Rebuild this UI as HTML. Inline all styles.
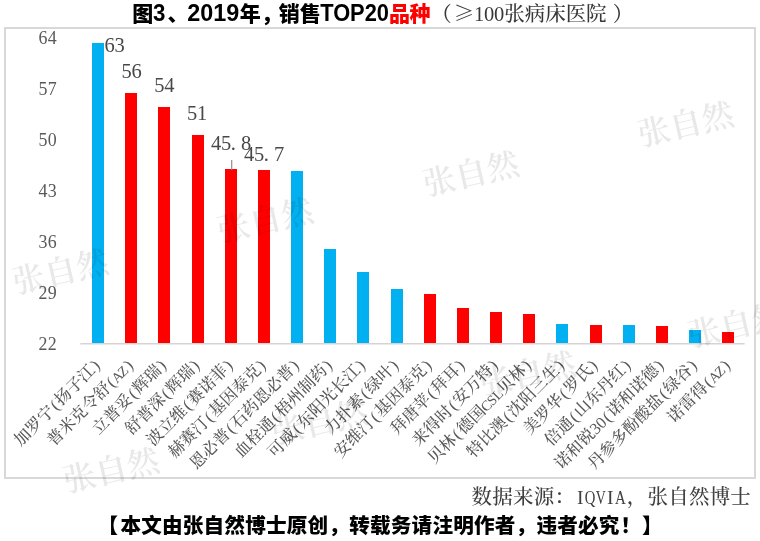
<!DOCTYPE html>
<html lang="zh-CN">
<head>
<meta charset="utf-8">
<title>图3、2019年，销售TOP20品种</title>
<style>
html,body{margin:0;padding:0;background:#fff;}
body{width:760px;height:541px;overflow:hidden;}
svg{display:block;text-spacing-trim:space-all;}
.song{font-family:"Liberation Serif","Noto Serif CJK SC",serif;}
.songc{font-family:"Noto Serif CJK SC","Liberation Serif",serif;}
.hei{font-family:"Liberation Sans","Noto Sans CJK SC",sans-serif;font-weight:700;}
</style>
</head>
<body>
<svg width="760" height="541" viewBox="0 0 760 541">
<rect x="0" y="0" width="760" height="541" fill="#ffffff"/>
<rect x="5" y="28" width="750" height="450" fill="none" stroke="#d8d8d8" stroke-width="2"/>
<text class="hei" style="font-weight:900" font-size="21" fill="#000" x="132.2" y="20.8">图<tspan x="153" font-size="24.2" style="font-weight:700" textLength="12.4" lengthAdjust="spacingAndGlyphs">3</tspan><tspan x="167.5">、</tspan><tspan x="187.2" font-size="24.2" style="font-weight:700" textLength="52" lengthAdjust="spacingAndGlyphs">2019</tspan><tspan x="239.7">年</tspan><tspan x="261">，</tspan><tspan x="278.7">销</tspan><tspan x="299.8">售</tspan><tspan x="320.2" font-size="24.2" style="font-weight:700" textLength="68.8" lengthAdjust="spacingAndGlyphs">TOP20</tspan><tspan fill="#ff0000"><tspan x="389.1">品</tspan><tspan x="409.5">种</tspan></tspan></text>
<text class="songc" font-size="20.5" font-weight="500" fill="#383838" y="20.9"><tspan x="431.3">（</tspan><tspan x="453.7">≥</tspan><tspan class="song" x="473.93 484.02 494.12">100</tspan><tspan x="504.30 524.75 545.20 565.65 586.10">张病床医院</tspan><tspan x="612.8">）</tspan></text>
<text class="song" x="42.90 52.30" y="44.1" font-size="17.9" fill="#595959" text-anchor="middle">64</text>
<text class="song" x="42.90 52.30" y="95.1" font-size="17.9" fill="#595959" text-anchor="middle">57</text>
<text class="song" x="42.90 52.30" y="146.2" font-size="17.9" fill="#595959" text-anchor="middle">50</text>
<text class="song" x="42.90 52.30" y="197.2" font-size="17.9" fill="#595959" text-anchor="middle">43</text>
<text class="song" x="42.90 52.30" y="248.2" font-size="17.9" fill="#595959" text-anchor="middle">36</text>
<text class="song" x="42.90 52.30" y="299.2" font-size="17.9" fill="#595959" text-anchor="middle">29</text>
<text class="song" x="42.90 52.30" y="350.3" font-size="17.9" fill="#595959" text-anchor="middle">22</text>
<line x1="80.3" y1="343.8" x2="744.6" y2="343.8" stroke="#d4d4d4" stroke-width="1.5"/>
<rect x="92" y="43" width="12" height="300" fill="#00b0f0"/>
<rect x="125" y="93" width="12" height="250" fill="#ff0000"/>
<rect x="158" y="107" width="12" height="236" fill="#ff0000"/>
<rect x="192" y="135" width="12" height="208" fill="#ff0000"/>
<rect x="225" y="169" width="12" height="174" fill="#ff0000"/>
<rect x="258" y="170" width="12" height="173" fill="#ff0000"/>
<rect x="291" y="171" width="12" height="172" fill="#00b0f0"/>
<rect x="324" y="249" width="12" height="94" fill="#00b0f0"/>
<rect x="357" y="272" width="12" height="71" fill="#00b0f0"/>
<rect x="391" y="289" width="12" height="54" fill="#00b0f0"/>
<rect x="424" y="294" width="12" height="49" fill="#ff0000"/>
<rect x="457" y="308" width="12" height="35" fill="#ff0000"/>
<rect x="490" y="312" width="12" height="31" fill="#ff0000"/>
<rect x="523" y="314" width="12" height="29" fill="#ff0000"/>
<rect x="556" y="324" width="12" height="19" fill="#00b0f0"/>
<rect x="590" y="325" width="12" height="18" fill="#ff0000"/>
<rect x="623" y="325" width="12" height="18" fill="#00b0f0"/>
<rect x="656" y="326" width="12" height="17" fill="#ff0000"/>
<rect x="689" y="330" width="12" height="13" fill="#00b0f0"/>
<rect x="722" y="332" width="12" height="11" fill="#ff0000"/>
<text class="song" x="109.50 119.50" y="51.5" font-size="20.5" fill="#484848" text-anchor="middle">63</text>
<text class="song" x="126.50 136.50" y="78.0" font-size="20.5" fill="#484848" text-anchor="middle">56</text>
<text class="song" x="159.40 169.40" y="91.7" font-size="20.5" fill="#484848" text-anchor="middle">54</text>
<text class="song" x="192.00 202.00" y="120.0" font-size="20.5" fill="#484848" text-anchor="middle">51</text>
<text class="song" x="216.00 226.00 233.40 246.00" y="149.8" font-size="20.5" fill="#484848" text-anchor="middle">45.8</text>
<text class="song" x="249.00 259.00 266.40 279.00" y="161.3" font-size="20.5" fill="#484848" text-anchor="middle">45.7</text>
<line x1="231.7" y1="160" x2="231.7" y2="170" stroke="#909090" stroke-width="1.2"/>
<text class="song" transform="translate(101.9 365.7) rotate(-45)" font-size="16.4" font-weight="500" fill="#595959" text-anchor="middle" x="-106.60 -90.20 -73.80 -61.50 -49.20 -32.80 -16.40 -4.10" y="0">加罗宁(扬子江)</text>
<text class="song" transform="translate(135.0 365.7) rotate(-45)" font-size="16.4" font-weight="500" fill="#595959" text-anchor="middle" x="-106.60 -90.20 -73.80 -57.40 -41.00 -28.70 -20.50 -12.30 -4.10" y="0">普米克令舒(<tspan font-size="14.2">AZ</tspan>)</text>
<text class="song" transform="translate(168.2 365.7) rotate(-45)" font-size="16.4" font-weight="500" fill="#595959" text-anchor="middle" x="-90.20 -73.80 -57.40 -45.10 -32.80 -16.40 -4.10" y="0">立普妥(辉瑞)</text>
<text class="song" transform="translate(201.4 365.7) rotate(-45)" font-size="16.4" font-weight="500" fill="#595959" text-anchor="middle" x="-90.20 -73.80 -57.40 -45.10 -32.80 -16.40 -4.10" y="0">舒普深(辉瑞)</text>
<text class="song" transform="translate(234.5 365.7) rotate(-45)" font-size="16.4" font-weight="500" fill="#595959" text-anchor="middle" x="-106.60 -90.20 -73.80 -61.50 -49.20 -32.80 -16.40 -4.10" y="0">波立维(赛诺菲)</text>
<text class="song" transform="translate(267.7 365.7) rotate(-45)" font-size="16.4" font-weight="500" fill="#595959" text-anchor="middle" x="-123.00 -106.60 -90.20 -77.90 -65.60 -49.20 -32.80 -16.40 -4.10" y="0">赫赛汀(基因泰克)</text>
<text class="song" transform="translate(300.9 365.7) rotate(-45)" font-size="16.4" font-weight="500" fill="#595959" text-anchor="middle" x="-139.40 -123.00 -106.60 -94.30 -82.00 -65.60 -49.20 -32.80 -16.40 -4.10" y="0">恩必普(石药恩必普)</text>
<text class="song" transform="translate(334.0 365.7) rotate(-45)" font-size="16.4" font-weight="500" fill="#595959" text-anchor="middle" x="-123.00 -106.60 -90.20 -77.90 -65.60 -49.20 -32.80 -16.40 -4.10" y="0">血栓通(梧州制药)</text>
<text class="song" transform="translate(367.2 365.7) rotate(-45)" font-size="16.4" font-weight="500" fill="#595959" text-anchor="middle" x="-123.00 -106.60 -94.30 -82.00 -65.60 -49.20 -32.80 -16.40 -4.10" y="0">可威(东阳光长江)</text>
<text class="song" transform="translate(400.4 365.7) rotate(-45)" font-size="16.4" font-weight="500" fill="#595959" text-anchor="middle" x="-90.20 -73.80 -57.40 -45.10 -32.80 -16.40 -4.10" y="0">力扑素(绿叶)</text>
<text class="song" transform="translate(433.5 365.7) rotate(-45)" font-size="16.4" font-weight="500" fill="#595959" text-anchor="middle" x="-123.00 -106.60 -90.20 -77.90 -65.60 -49.20 -32.80 -16.40 -4.10" y="0">安维汀(基因泰克)</text>
<text class="song" transform="translate(466.7 365.7) rotate(-45)" font-size="16.4" font-weight="500" fill="#595959" text-anchor="middle" x="-90.20 -73.80 -57.40 -45.10 -32.80 -16.40 -4.10" y="0">拜唐苹(拜耳)</text>
<text class="song" transform="translate(499.9 365.7) rotate(-45)" font-size="16.4" font-weight="500" fill="#595959" text-anchor="middle" x="-106.60 -90.20 -73.80 -61.50 -49.20 -32.80 -16.40 -4.10" y="0">来得时(安万特)</text>
<text class="song" transform="translate(533.0 365.7) rotate(-45)" font-size="16.4" font-weight="500" fill="#595959" text-anchor="middle" x="-131.20 -114.80 -102.50 -90.20 -73.80 -61.50 -53.30 -45.10 -32.80 -16.40 -4.10" y="0">贝林(德国<tspan font-size="14.2">CSL</tspan>贝林)</text>
<text class="song" transform="translate(566.2 365.7) rotate(-45)" font-size="16.4" font-weight="500" fill="#595959" text-anchor="middle" x="-123.00 -106.60 -90.20 -77.90 -65.60 -49.20 -32.80 -16.40 -4.10" y="0">特比澳(沈阳三生)</text>
<text class="song" transform="translate(599.4 365.7) rotate(-45)" font-size="16.4" font-weight="500" fill="#595959" text-anchor="middle" x="-90.20 -73.80 -57.40 -45.10 -32.80 -16.40 -4.10" y="0">美罗华(罗氏)</text>
<text class="song" transform="translate(632.5 365.7) rotate(-45)" font-size="16.4" font-weight="500" fill="#595959" text-anchor="middle" x="-106.60 -90.20 -77.90 -65.60 -49.20 -32.80 -16.40 -4.10" y="0">倍通(山东丹红)</text>
<text class="song" transform="translate(665.7 365.7) rotate(-45)" font-size="16.4" font-weight="500" fill="#595959" text-anchor="middle" x="-139.40 -123.00 -106.60 -94.30 -86.10 -77.90 -65.60 -49.20 -32.80 -16.40 -4.10" y="0">诺和锐30(诺和诺德)</text>
<text class="song" transform="translate(698.9 365.7) rotate(-45)" font-size="16.4" font-weight="500" fill="#595959" text-anchor="middle" x="-139.40 -123.00 -106.60 -90.20 -73.80 -57.40 -45.10 -32.80 -16.40 -4.10" y="0">丹参多酚酸盐(绿谷)</text>
<text class="song" transform="translate(732.0 365.7) rotate(-45)" font-size="16.4" font-weight="500" fill="#595959" text-anchor="middle" x="-73.80 -57.40 -41.00 -28.70 -20.50 -12.30 -4.10" y="0">诺雷得(<tspan font-size="14.2">AZ</tspan>)</text>
<text class="songc" y="504.3" font-size="20.5" font-weight="500" fill="#404040"><tspan x="471.60 492.30 513.00 533.70 554.40">数据来源：</tspan><tspan class="song" font-size="19.5"><tspan x="576.9" textLength="6.5" lengthAdjust="spacingAndGlyphs">I</tspan><tspan x="584.8" textLength="10.6" lengthAdjust="spacingAndGlyphs">Q</tspan><tspan x="595.8" textLength="10.0" lengthAdjust="spacingAndGlyphs">V</tspan><tspan x="606.9" textLength="6.5" lengthAdjust="spacingAndGlyphs">I</tspan><tspan x="615.1" textLength="10.8" lengthAdjust="spacingAndGlyphs">A</tspan></tspan><tspan x="626.85 647.55 668.25 688.95 709.65 730.35">，张自然博士</tspan></text>
<text class="hei" x="97.60 120.40 141.20 162.00 182.80 203.60 224.40 245.20 266.00 286.80 307.60 328.40 349.20 370.00 390.80 411.60 432.40 453.20 474.00 494.80 515.60 536.40 557.20 578.00 598.80 620.60 641.90" y="532.7" font-size="20.6" style="font-weight:900" fill="#000">【本文由张自然博士原创，转载务请注明作者，违者必究！】</text>
<text class="song" transform="translate(60.6 272.2) rotate(-13)" font-size="32.6" font-weight="600" fill="#000" fill-opacity="0.092" text-anchor="middle" x="0" y="11">张自然</text>
<text class="song" transform="translate(265.3 220.9) rotate(-13)" font-size="32.6" font-weight="600" fill="#000" fill-opacity="0.092" text-anchor="middle" x="0" y="11">张自然</text>
<text class="song" transform="translate(471.2 174.2) rotate(-13)" font-size="32.6" font-weight="600" fill="#000" fill-opacity="0.092" text-anchor="middle" x="0" y="11">张自然</text>
<text class="song" transform="translate(685.8 124.7) rotate(-13)" font-size="32.6" font-weight="600" fill="#000" fill-opacity="0.092" text-anchor="middle" x="0" y="11">张自然</text>
<text class="song" transform="translate(111.5 470.9) rotate(-13)" font-size="32.6" font-weight="600" fill="#000" fill-opacity="0.092" text-anchor="middle" x="0" y="11">张自然</text>
<text class="song" transform="translate(319.7 422.5) rotate(-13)" font-size="32.6" font-weight="600" fill="#000" fill-opacity="0.092" text-anchor="middle" x="0" y="11">张自然</text>
<text class="song" transform="translate(527.9 374.1) rotate(-13)" font-size="32.6" font-weight="600" fill="#000" fill-opacity="0.092" text-anchor="middle" x="0" y="11">张自然</text>
<text class="song" transform="translate(736.1 325.6) rotate(-13)" font-size="32.6" font-weight="600" fill="#000" fill-opacity="0.092" text-anchor="middle" x="0" y="11">张自然</text>
</svg>
</body>
</html>
